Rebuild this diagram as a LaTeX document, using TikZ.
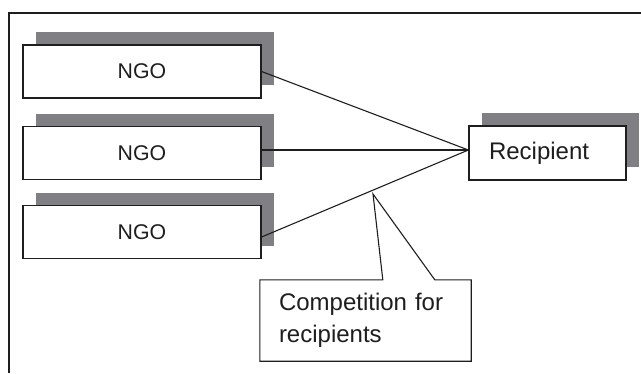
\documentclass[tikz,border=0pt]{standalone}
\usepackage{fontspec}
\setmainfont{Liberation Sans}
\usetikzlibrary{shadows,calc}
\definecolor{shadowgray}{RGB}{128,128,132}
\definecolor{inkgray}{RGB}{30,30,30}
\tikzset{
  box/.style={draw=inkgray, line width=1.2pt, fill=white, rectangle,
    drop shadow={shadow xshift=13pt, shadow yshift=13pt, opacity=1, fill=shadowgray}},
  ngobox/.style={box, minimum width=238pt, minimum height=53pt, inner sep=0pt,
    font=\fontsize{21.3}{25}\selectfont, text=inkgray},
  recbox/.style={box, minimum height=54pt, inner xsep=20pt, inner ysep=0pt,
    text width=117pt, align=left, font=\fontsize{24}{28}\selectfont, text=inkgray},
  calloutarea/.style={minimum width=211pt, minimum height=81pt, inner sep=0pt},
  callouttext/.style={calloutarea, inner xsep=19pt, text width=173pt, align=left,
    font=\fontsize{24}{31.6}\selectfont, text=inkgray},
  link/.style={draw=inkgray, line width=1.1pt},
  frameline/.style={draw=inkgray, line width=1.5pt}
}
\begin{document}
\begin{tikzpicture}[x=1pt, y=-1pt]
  \useasboundingbox (0,0) rectangle (641,373);

  % outer frame (open at right and bottom)
  \draw[frameline] (9,373) -- (9,13) -- (641,13);

  % boxes
  \node[ngobox] (n1) at (142,71.5) {NGO};
  \node[ngobox] (n2) at (142,153) {NGO};
  \node[ngobox] (n3) at (142,232) {NGO};
  \node[recbox] (r) at (547.5,153) {Recipient};

  % links into the recipient
  \coordinate (hub) at ([yshift=3pt]r.west);
  \draw[link] (n1.east) -- (hub);
  \draw[link] ([yshift=3pt]n2.east) -- (hub);
  \draw[link] ([yshift=-5pt]n3.east) -- (hub);

  % callout box with its pointer
  \node[calloutarea] (c) at (365.5,320.5) {};
  \coordinate (tip) at (373,194);
  \draw[link, fill=white] (c.north west) -- ($(c.north west)+(123,0)$) -- (tip)
    -- ($(c.north west)+(175,0)$) -- (c.north east) -- (c.south east)
    -- (c.south west) -- cycle;
  \node[callouttext] (ct) at (c) {Competition for\\recipients};
\end{tikzpicture}
\end{document}
